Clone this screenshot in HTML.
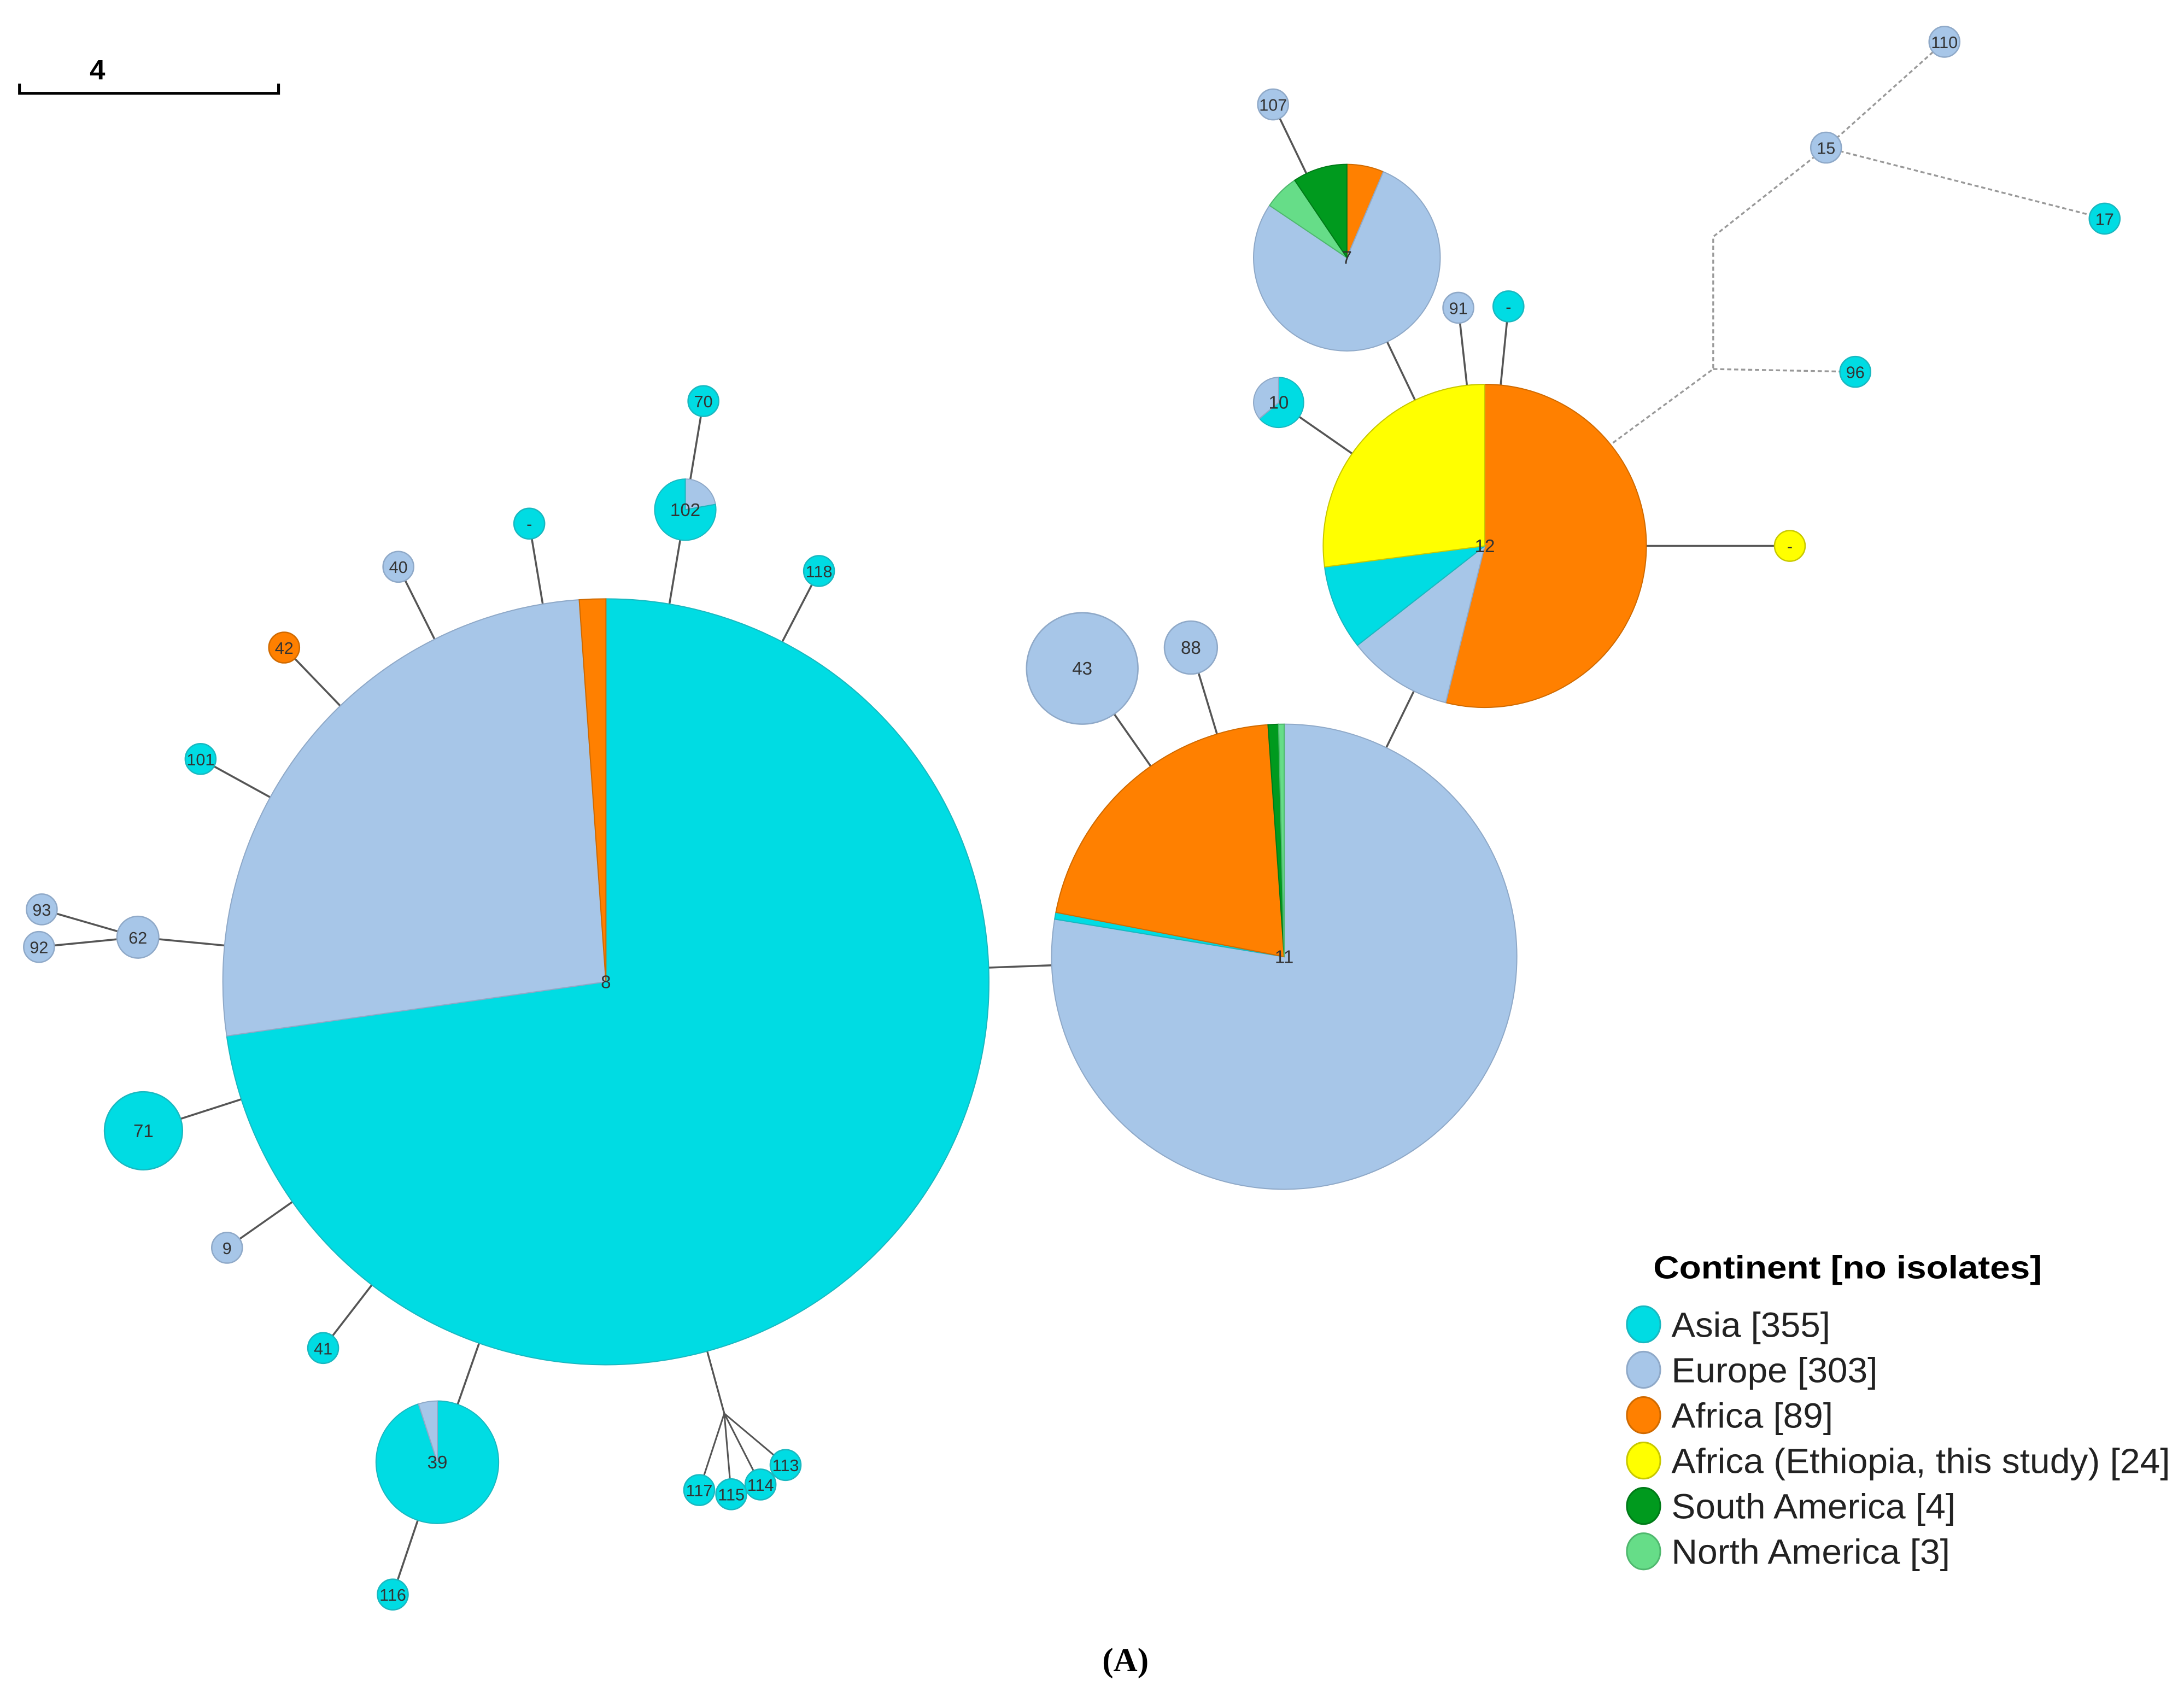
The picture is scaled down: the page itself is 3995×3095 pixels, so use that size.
<!DOCTYPE html>
<html><head><meta charset="utf-8"><style>
html,body{margin:0;padding:0;background:#fff;}
svg{display:block;}
text{font-family:"Liberation Sans",sans-serif;}
</style></head><body>
<svg id="chart" width="3995" height="3095" viewBox="0 0 1568 1215" preserveAspectRatio="none" xmlns="http://www.w3.org/2000/svg">
<g>
<path d="M14,60 V67 H200 V60" fill="none" stroke="#000" stroke-width="2"/>
<text x="70" y="57" font-size="20" font-weight="bold" text-anchor="middle">4</text>
</g>
<g id="edges"></g>
<g id="nodes"></g>
<g>
<text x="1187" y="918" font-size="23" font-weight="bold" textLength="279" lengthAdjust="spacingAndGlyphs">Continent [no isolates]</text>
<g id="legend-entries"></g>
</g>
<text x="808" y="1200" font-size="24" font-weight="bold" text-anchor="middle" style="font-family:'Liberation Serif',serif">(A)</text>
</svg>
<script>
const categories = ["Asia","Europe","Africa","Ethiopia","South America","North America"];
const counts = [355,303,89,24,4,3];
const legendLabels = ["Asia [355]","Europe [303]","Africa [89]","Africa (Ethiopia, this study) [24]","South America [4]","North America [3]"];
const colors = ["#00dce3","#a7c6e8","#ff8000","#ffff00","#009a1e","#66dd88"];
const strokes = ["#19b8c0","#8fa9c8","#d06a00","#c8c800","#007a18","#4fb86e"];
const nodeIds = ["8","11","12","7","43","88","71","39","102","10","70","m1","40","118","42","101","62","93","92","9","41","116","117","115","114","113","107","91","m2","m3","96","110","15","17"];
const nodeLabels = ["8","11","12","7","43","88","71","39","102","10","70","-","40","118","42","101","62","93","92","9","41","116","117","115","114","113","107","91","-","-","96","110","15","17"];
const nodeX = [435,922,1066,967,777,855,103,314,492,918,505,380,286,588,204,144,99,30,28,163,232,282,502,525,546,564,914,1047,1083,1285,1332,1396,1311,1511];
const nodeY = [705,687,392,185,480,465,812,1050,366,289,288,376,407,410,465,545,673,653,680,896,968,1145,1070,1073,1066,1052,75,221,220,392,267,30,106,157];
const nodeR = [275,167,116,67,40,19,28,44,22,18,11,11,11,11,11,11,15,11,11,11,11,11,11,11,11,11,11,11,11,11,11,11,11,11];
const nodeComp = [
 [262.3,94.3,4,0,0,0],
 [1.7,279.3,75,0,2.6,1.4],
 [30.5,38,194,97.5,0,0],
 [0,281,23,0,34,22],
 [0,1,0,0,0,0],[0,1,0,0,0,0],[1,0,0,0,0,0],
 [342,18,0,0,0,0],
 [280,80,0,0,0,0],
 [230,130,0,0,0,0],
 [1,0,0,0,0,0],[1,0,0,0,0,0],[0,1,0,0,0,0],[1,0,0,0,0,0],[0,0,1,0,0,0],[1,0,0,0,0,0],
 [0,1,0,0,0,0],[0,1,0,0,0,0],[0,1,0,0,0,0],[0,1,0,0,0,0],[1,0,0,0,0,0],[1,0,0,0,0,0],
 [1,0,0,0,0,0],[1,0,0,0,0,0],[1,0,0,0,0,0],[1,0,0,0,0,0],
 [0,1,0,0,0,0],[0,1,0,0,0,0],[1,0,0,0,0,0],[0,0,0,1,0,0],[1,0,0,0,0,0],[0,1,0,0,0,0],[0,1,0,0,0,0],[1,0,0,0,0,0]
];
const sliceOrder = {"8":[0,1,2],"11":[1,0,2,4,5],"12":[2,1,0,3],"7":[2,1,5,4],"102":[1,0],"10":[0,1],"39":[0,1]};
const edgeList = [["8","11"],["11","12"],["12","7"],["12","91"],["12","m2"],["12","10"],["12","m3"],["7","107"],["11","43"],["11","88"],
 ["8","102"],["102","70"],["8","m1"],["8","40"],["8","118"],["8","42"],["8","101"],["8","62"],["62","93"],["62","92"],["8","71"],["8","9"],["8","41"],["8","39"],["39","116"]];
const dashedPaths = [[[1158,318],[1230,265],[1230,170],[1311,106]],[[1230,265],[1332,267]],[[1311,106],[1396,30]],[[1311,106],[1511,157]]];
const ns="http://www.w3.org/2000/svg";
const idx=id=>nodeIds.indexOf(id);
const eg=document.getElementById('edges'), ng=document.getElementById('nodes');
function mk(t,a){const e=document.createElementNS(ns,t);for(const k in a)e.setAttribute(k,a[k]);return e;}
edgeList.forEach(([a,b])=>{const i=idx(a),j=idx(b);
 const l=mk('line',{x1:nodeX[i],y1:nodeY[i],x2:nodeX[j],y2:nodeY[j],stroke:'#555','stroke-width':1.4});
 
 
 eg.appendChild(l);});
[["117"],["115"],["114"],["113"]].forEach(([a])=>{const i=idx(a);
 const l=mk('polyline',{points:nodeX[0]+','+nodeY[0]+' 520,1015 '+nodeX[i]+','+nodeY[i],fill:'none',stroke:'#555','stroke-width':1.2});
 
 
 eg.appendChild(l);});
dashedPaths.forEach((p,k)=>{const l=mk('polyline',{points:p.map(q=>q.join(',')).join(' '),fill:'none',stroke:'#999','stroke-width':1.3,'stroke-dasharray':'3,2'});
 
 
 eg.appendChild(l);});
function pt(cx,cy,r,deg){const a=deg*Math.PI/180;return [cx+r*Math.sin(a),cy-r*Math.cos(a)];}
nodeIds.forEach((id,i)=>{
 const g=mk('g',{});
 
 
 const cx=nodeX[i],cy=nodeY[i],r=nodeR[i],comp=nodeComp[i];
 const tot=comp.reduce((s,v)=>s+v,0);
 const order=sliceOrder[id]||[0,1,2,3,4,5];
 const nz=order.filter(c=>comp[c]>0);
 if(nz.length===1){const c=nz[0];
  const s=mk('circle',{cx,cy,r,fill:colors[c],stroke:strokes[c],'stroke-width':1});
  
  
  g.appendChild(s);}
 else{let a0=0;nz.forEach(c=>{const a1=a0+comp[c]/tot*360;
  const p0=pt(cx,cy,r,a0),p1=pt(cx,cy,r,a1);
  const d='M'+cx+','+cy+' L'+p0[0]+','+p0[1]+' A'+r+','+r+' 0 '+(a1-a0>180?1:0)+' 1 '+p1[0]+','+p1[1]+' Z';
  const s=mk('path',{d,fill:colors[c],stroke:strokes[c],'stroke-width':0.8});
  
  
  g.appendChild(s);a0=a1;});}
 const t=mk('text',{x:cx,y:cy+4.5,'font-size':r>15?13:12,'text-anchor':'middle',fill:'#333'});
 t.textContent=nodeLabels[i];
 
 
 g.appendChild(t);
 ng.appendChild(g);});
const le=document.getElementById('legend-entries');
const lw=[114,148,116,358,204,200];
categories.forEach((c,k)=>{const y=951+k*32.6;
 const g=mk('g',{});
 
 
 g.appendChild(mk('ellipse',{cx:1180,cy:y,rx:12,ry:13,fill:colors[k],stroke:strokes[k],'stroke-width':1.2}));
 const t=mk('text',{x:1200,y:y+9,'font-size':25,fill:'#222',textLength:lw[k],lengthAdjust:'spacingAndGlyphs'});
 t.textContent=legendLabels[k];
 g.appendChild(t);le.appendChild(g);});
</script>
</body></html>
